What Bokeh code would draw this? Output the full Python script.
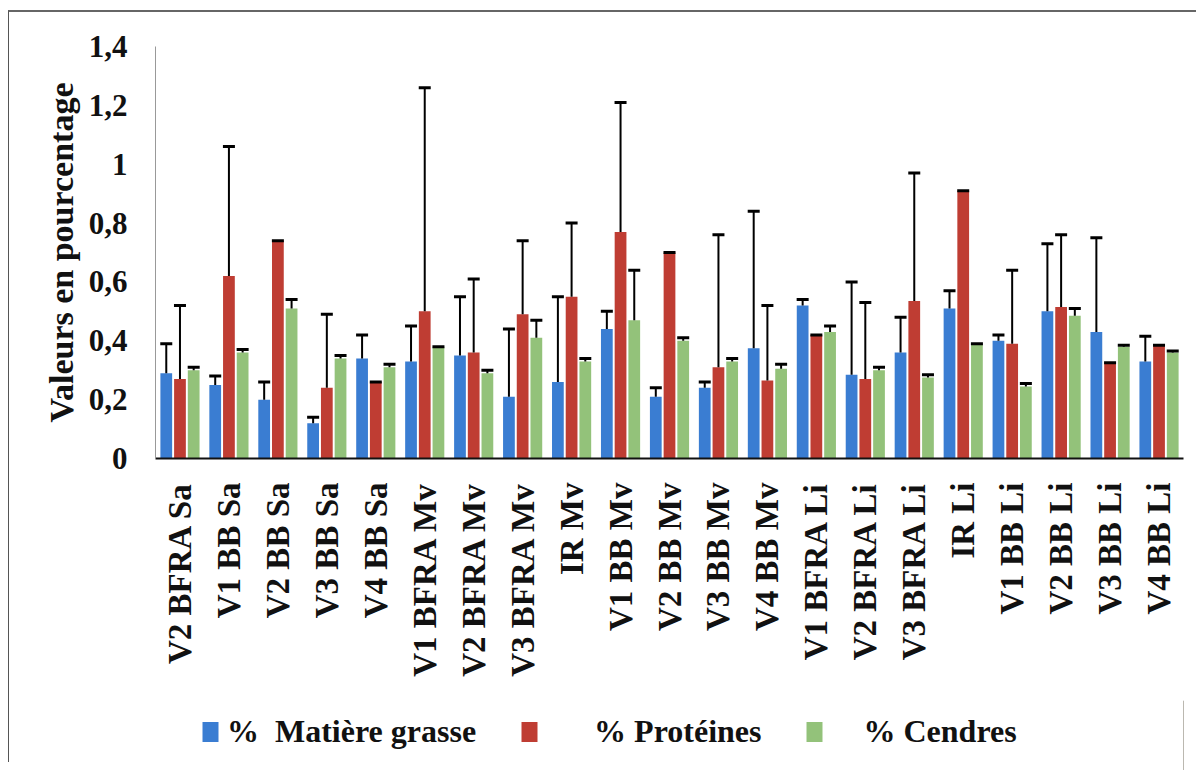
import math
from bokeh.plotting import figure
from bokeh.layouts import column
from bokeh.models import (ColumnDataSource, Range1d, FixedTicker, Whisker, TeeHead,
                          Legend, LegendItem, InlineStyleSheet)
from bokeh.transform import dodge
from bokeh.embed import file_html
from bokeh.resources import INLINE

# ---------------- data ----------------
categories = ["V2 BFRA Sa", "V1 BB Sa", "V2 BB Sa", "V3 BB Sa", "V4 BB Sa",
              "V1 BFRA Mv", "V2 BFRA Mv", "V3 BFRA Mv", "IR Mv", "V1 BB Mv",
              "V2 BB Mv", "V3 BB Mv", "V4 BB Mv", "V1 BFRA Li", "V2 BFRA Li",
              "V3 BFRA Li", "IR Li", "V1 BB Li", "V2 BB Li", "V3 BB Li", "V4 BB Li"]

matiere_grasse = [0.29, 0.25, 0.20, 0.12, 0.34, 0.33, 0.35, 0.21, 0.26, 0.44, 0.21,
                  0.24, 0.375, 0.52, 0.285, 0.36, 0.51, 0.40, 0.50, 0.43, 0.33]
matiere_grasse_sd = [0.10, 0.03, 0.06, 0.02, 0.08, 0.12, 0.20, 0.23, 0.29, 0.06, 0.03,
                     0.02, 0.465, 0.02, 0.315, 0.12, 0.06, 0.02, 0.23, 0.32, 0.085]

proteines = [0.27, 0.62, 0.74, 0.24, 0.26, 0.50, 0.36, 0.49, 0.55, 0.77, 0.70,
             0.31, 0.265, 0.42, 0.27, 0.535, 0.91, 0.39, 0.515, 0.325, 0.385]
proteines_sd = [0.25, 0.44, 0.0, 0.25, 0.0, 0.76, 0.25, 0.25, 0.25, 0.44, 0.0,
                0.45, 0.255, 0.0, 0.26, 0.435, 0.0, 0.25, 0.245, 0.0, 0.0]

cendres = [0.30, 0.36, 0.51, 0.34, 0.31, 0.38, 0.29, 0.41, 0.33, 0.47, 0.40,
           0.33, 0.305, 0.43, 0.30, 0.275, 0.39, 0.245, 0.485, 0.38, 0.36]
cendres_sd = [0.01, 0.01, 0.03, 0.01, 0.01, 0.0, 0.01, 0.06, 0.01, 0.17, 0.01,
              0.01, 0.015, 0.02, 0.01, 0.01, 0.0, 0.01, 0.025, 0.005, 0.005]

series_labels = ["%\u00a0\u00a0Matière grasse",
                 "\u00a0\u00a0\u00a0\u00a0\u00a0\u00a0% Protéines",
                 "\u00a0\u00a0\u00a0\u00a0% Cendres"]

y_ticks = [0, 0.2, 0.4, 0.6, 0.8, 1, 1.2, 1.4]
y_tick_labels = ["0", "0,2", "0,4", "0,6", "0,8", "1", "1,2", "1,4"]
y_label = "Valeurs en pourcentage"

# ---------------- styles ----------------
colors = ["#3a7dd2", "#bf3d33", "#93c27a"]
offsets = [-0.28, 0.0, 0.28]
FONT = "Liberation Serif"

src = ColumnDataSource(dict(
    cat=categories,
    mg=matiere_grasse, mg_up=[v + e for v, e in zip(matiere_grasse, matiere_grasse_sd)],
    pr=proteines, pr_up=[v + e for v, e in zip(proteines, proteines_sd)],
    ce=cendres, ce_up=[v + e for v, e in zip(cendres, cendres_sd)],
))

p = figure(x_range=categories, y_range=Range1d(0, 1.4),
           width=1196, height=700, output_backend="svg", toolbar_location=None,
           min_border_left=155, min_border_right=13, min_border_top=46,
           min_border_bottom=242)
p.outline_line_color = None
p.xgrid.visible = False
p.ygrid.visible = False
p.x_range.range_padding = 0

for key, col, off in zip(["mg", "pr", "ce"], colors, offsets):
    p.vbar(x=dodge("cat", off, range=p.x_range), top=key, width=0.24,
           source=src, fill_color=col, line_color=None)
for key, off in zip(["mg", "pr", "ce"], offsets):
    w = Whisker(source=src, base=dodge("cat", off, range=p.x_range),
                lower=key, upper=key + "_up", line_color="black", line_width=2,
                upper_head=TeeHead(size=12, line_color="black", line_width=3),
                lower_head=None, level="overlay")
    p.add_layout(w)

# y axis
ya = p.yaxis[0]
ya.ticker = FixedTicker(ticks=y_ticks)
ya.major_label_overrides = dict(zip(y_ticks, y_tick_labels))
ya.minor_tick_line_color = None
ya.major_tick_out = 0
ya.major_tick_in = 0
ya.axis_line_color = "#999999"
ya.axis_line_width = 1
ya.major_label_standoff = 28
ya.major_label_text_font = FONT
ya.major_label_text_font_style = "bold"
ya.major_label_text_font_size = "31px"
ya.major_label_text_color = "#111111"
ya.axis_label = y_label
ya.axis_label_text_font = FONT
ya.axis_label_text_font_style = "bold"
ya.axis_label_text_font_size = "34px"
ya.axis_label_text_color = "#111111"
ya.axis_label_standoff = 6

# x axis
xa = p.xaxis[0]
xa.major_label_orientation = math.pi / 2
xa.major_tick_line_color = None
xa.major_tick_out = 0
xa.axis_line_color = "#111111"
xa.axis_line_width = 2
xa.major_label_standoff = 24
xa.major_label_text_font = FONT
xa.major_label_text_font_style = "bold"
xa.major_label_text_font_size = "33px"
xa.major_label_text_color = "#111111"

# ---------------- legend strip below the chart ----------------
lg = figure(width=1196, height=70, x_range=Range1d(0, 1), y_range=Range1d(0, 1),
            output_backend="svg", toolbar_location=None,
            x_axis_type=None, y_axis_type=None,
            min_border_left=0, min_border_right=0, min_border_top=0, min_border_bottom=0)
lg.outline_line_color = None
lg.xgrid.visible = False
lg.ygrid.visible = False
# swatch renderers sit outside the visible range; they only feed the legend glyphs
swatches = [lg.vbar(x=[5], top=[1], width=0.1, fill_color=col, line_color=None) for col in colors]

legend = Legend(items=[LegendItem(label=l, renderers=[r]) for l, r in zip(series_labels, swatches)],
                orientation="horizontal", location=(45, 20),
                glyph_width=20, glyph_height=25, label_standoff=7, spacing=43,
                padding=0, margin=0, border_line_color=None, background_fill_alpha=0,
                label_text_font=FONT, label_text_font_style="bold",
                label_text_font_size="32px", label_text_color="#111111")
lg.add_layout(legend)

frame_css = InlineStyleSheet(css="""
:host { position: relative; }
:host::after {
  content: ""; position: absolute; left: 8px; top: 10px; width: 1188px; height: 752px;
  border-left: 1px solid #555; border-top: 2px solid #666; box-sizing: border-box;
  pointer-events: none;
}
""")
layout = column(p, lg, spacing=0, stylesheets=[frame_css])
open("out.html", "w").write(file_html(layout, INLINE))
